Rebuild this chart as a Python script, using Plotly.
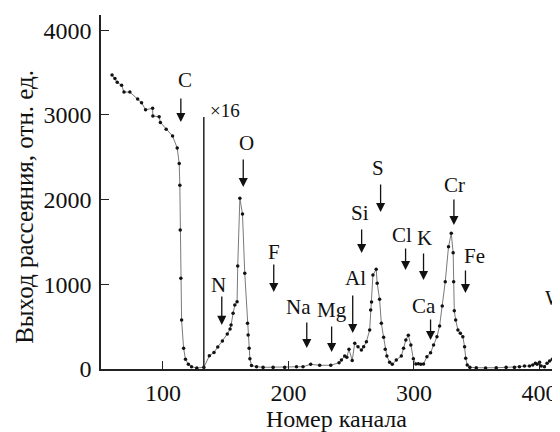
import plotly.graph_objects as go

# ---- data ----
channel = [59.5, 61.8, 63.6, 67.1, 69.0, 73.7, 79.9, 83.0, 86.2, 91.8, 92.0, 97.0, 98.0,
           102.6, 107.7, 111.4, 113.0, 113.5, 113.8, 114.3, 114.9, 116.5, 118.0, 120.3,
           122.8, 127.0, 132.6, 137.0, 140.7, 143.7, 147.4, 151.3, 153.5, 154.3, 155.9,
           157.3, 159.1, 159.6, 161.3, 163.4, 165.2, 167.4, 167.9, 168.7, 169.3, 170.6,
           174.6, 179.8, 187.8, 197.0, 206.4, 211.6, 217.7, 224.9, 233.7, 240.3, 242.2,
           244.8, 246.5, 248.2, 250.8, 252.8, 255.4, 258.1, 259.9, 262.1, 264.7, 265.5,
           266.2, 267.3, 269.9, 270.7, 272.6, 274.0, 275.8, 277.1, 278.4, 280.6, 282.7,
           285.9, 289.9, 291.7, 293.5, 295.5, 297.5, 299.5, 301.5, 303.5, 305.5, 307.6,
           310.3, 313.2, 315.6, 318.3, 320.4, 322.5, 324.9, 327.5, 329.7, 331.2, 331.6,
           332.1, 333.2, 335.0, 336.9, 338.9, 340.3, 341.2, 342.4, 344.5, 349.6, 357.0,
           365.5, 373.4, 380.0, 384.0, 388.0, 392.0, 394.6, 396.7, 398.1, 400.0, 401.3,
           403.9, 406.0, 408.0, 410.2, 412.0, 413.8, 416.0]
yield_ = [3471, 3430, 3385, 3350, 3270, 3270, 3188, 3144, 3062, 3078, 2987, 2979, 2912,
          2830, 2751, 2609, 2428, 2169, 1641, 1071, 578, 244, 114, 55,
          27, 12, 20, 155, 195, 260, 330, 413, 472, 519, 657,
          756, 795, 1216, 2015, 1830, 1130, 540, 401, 244, 120, 40,
          27, 20, 20, 20, 27, 27, 55, 44, 44, 74, 106,
          153, 140, 232, 100, 303, 263, 224, 263, 322, 460, 697,
          790, 1110, 1177, 1012, 823, 540, 374, 232, 153, 79, 55,
          106, 153, 244, 342, 398, 283, 120, 60, 62, 55, 59,
          145, 193, 283, 381, 508, 744, 1031, 1444, 1602, 1373, 1031,
          689, 578, 460, 421, 381, 263, 126, 47, 20, 15, 12,
          15, 20, 20, 27, 35, 35, 47, 67, 55, 80, 35,
          27, 67, 94, 114, 114, 98, 86]

x_ticks = [100, 200, 300, 400]
y_ticks = [0, 1000, 2000, 3000, 4000]

# element labels: name, label position, arrow tail, arrow head
elements = ["C", "O", "N", "F", "Na", "Mg", "Al", "Si", "S", "Cl", "K", "Ca", "Cr", "Fe", "W"]
label_x = [117.5, 166.8, 144.5, 188.3, 208.2, 234.4, 253.5, 256.7, 271.1, 290.1, 308.4, 307.6, 332.3, 348.2, 412.7]
label_y = [3412, 2668, 992, 1381, 732, 697, 1074, 1842, 2373, 1582, 1547, 744, 2172, 1334, 838]
arrow_x = [114.3, 164.0, 146.9, 188.3, 214.6, 234.4, 251.2, 258.3, 273.4, 293.3, 307.6, 313.2, 331.8, 341.0, 413.5]
arrow_top = [3211, 2491, 874, 1251, 567, 519, 885, 1665, 2196, 1440, 1381, 602, 2019, 1181, 602]
arrow_tip = [2916, 2149, 520, 909, 248, 201, 425, 1370, 1854, 1169, 1051, 342, 1700, 897, 307]

marker_channel = 132.6
marker_top = 2975
marker_label = "×16"
marker_label_x = 149.3
marker_label_y = 3058

FONT = "Liberation Serif"
INK = "#111111"

fig = go.Figure()
fig.add_trace(go.Scatter(
    x=channel, y=yield_, mode="lines+markers",
    line=dict(color="#7a7a7a", width=1),
    marker=dict(color=INK, size=3.5),
    showlegend=False, hoverinfo="skip"))

fig.add_shape(type="line", x0=marker_channel, x1=marker_channel, y0=0, y1=marker_top,
              xref="x", yref="y", line=dict(color="#222222", width=1.5))

ann = []
for name, lx, ly, axx, at, tip in zip(elements, label_x, label_y, arrow_x, arrow_top, arrow_tip):
    ann.append(dict(x=lx, y=ly, xref="x", yref="y", text=name, showarrow=False,
                    xanchor="center", yanchor="middle",
                    font=dict(family=FONT, size=21, color=INK)))
    ann.append(dict(x=axx, y=tip, ax=axx, ay=at, xref="x", yref="y", axref="x", ayref="y",
                    text="", showarrow=True, arrowhead=2, arrowsize=1.4, arrowwidth=1.3,
                    arrowcolor=INK, standoff=0, startstandoff=0))
ann.append(dict(x=marker_label_x, y=marker_label_y, xref="x", yref="y", text=marker_label,
                xanchor="center", yanchor="middle", showarrow=False,
                font=dict(family=FONT, size=19, color=INK)))
ann.append(dict(x=-0.1656, y=0.458, xref="paper", yref="paper", text="Выход рассеяния, отн. ед.",
                xanchor="center", yanchor="middle", textangle=-90, showarrow=False,
                font=dict(family=FONT, size=25, color=INK)))
ann.append(dict(x=0.512, y=-0.142, xref="paper", yref="paper", text="Номер канала",
                xanchor="center", yanchor="middle", showarrow=False,
                font=dict(family=FONT, size=24, color=INK)))

fig.update_layout(
    width=560, height=432,
    margin=dict(l=93, r=8, t=7, b=71),
    paper_bgcolor="white", plot_bgcolor="white",
    annotations=ann,
    xaxis=dict(range=[50.7, 416.3], tickvals=x_ticks, ticks="inside", ticklen=8, tickwidth=1.3,
               tickcolor="#222222", showline=True, linecolor="#222222", linewidth=1.5,
               showgrid=False, zeroline=False, ticklabelstandoff=1, automargin=False,
               tickfont=dict(family=FONT, size=24, color=INK)),
    yaxis=dict(range=[0, 4180], tickvals=y_ticks, ticks="inside", ticklen=8, tickwidth=1.3,
               tickcolor="#222222", showline=True, linecolor="#222222", linewidth=1.5,
               showgrid=False, zeroline=False, ticklabelstandoff=3, automargin=False,
               tickfont=dict(family=FONT, size=24, color=INK)),
)

fig.write_html("out.html")
